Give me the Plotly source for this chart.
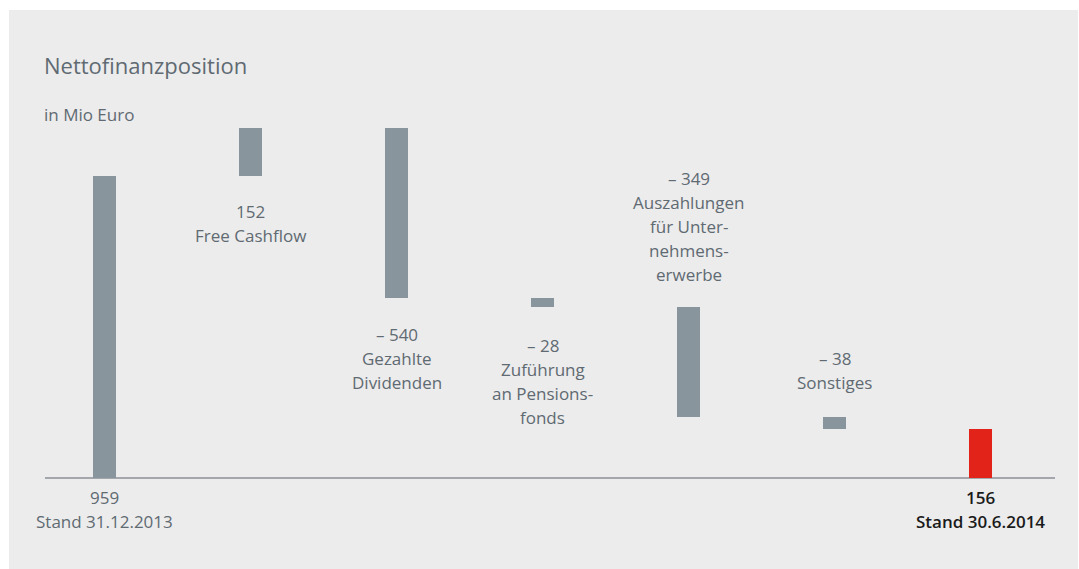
import plotly.graph_objects as go

# ---- data ----
categories = ["Stand 31.12.2013", "Free Cashflow", "Gezahlte Dividenden",
              "Zuführung an Pensionsfonds", "Auszahlungen für Unternehmenserwerbe",
              "Sonstiges", "Stand 30.6.2014"]
start_value = 959
deltas = [152, -540, -28, -349, -38]
end_value = 156
value_labels = ["959", "152", "– 540", "– 28", "– 349", "– 38", "156"]
label_lines = [
    ["Stand 31.12.2013"],
    ["Free Cashflow"],
    ["Gezahlte", "Dividenden"],
    ["Zuführung", "an Pensions-", "fonds"],
    ["Auszahlungen", "für Unter-", "nehmens-", "erwerbe"],
    ["Sonstiges"],
    ["Stand 30.6.2014"],
]

# ---- style ----
PANEL = "#ececec"
BAR = "#89959c"
RED = "#e2231a"
TXT = "#5f6a72"
FONT = "Open Sans"
FS = 17

# waterfall bases/heights
bases, heights = [0], [start_value]
running = start_value
for d in deltas:
    if d >= 0:
        bases.append(running); heights.append(d)
    else:
        bases.append(running + d); heights.append(-d)
    running += d
bases.append(0); heights.append(end_value)
colors = [BAR] * 6 + [RED]
xs = list(range(len(categories)))

fig = go.Figure(go.Bar(x=xs, y=heights, base=bases, marker_color=colors,
                       marker_line_width=0, width=0.158, hoverinfo="skip"))

px_per_unit = 302 / 959
annotations = []
LINE = 24

def add_lines(x, y, lines, first_shift, direction, color=TXT, weight=400):
    for i, t in enumerate(lines):
        annotations.append(dict(x=x, y=y, xref="x", yref="y", text=t, showarrow=False,
                                yshift=direction * (first_shift + i * LINE),
                                font=dict(family=FONT, size=FS, color=color, weight=weight),
                                xanchor="center", yanchor="middle"))

add_lines(0, 0, [value_labels[0]] + label_lines[0], 19, -1)
add_lines(6, 0, [value_labels[6]] + label_lines[6], 19, -1, color="#1a1a1a", weight=600)
add_lines(1, bases[1], [value_labels[1]] + label_lines[1], 35, -1)
add_lines(2, bases[2], [value_labels[2]] + label_lines[2], 36, -1)
add_lines(3, bases[3], [value_labels[3]] + label_lines[3], 38, -1)
lines4 = [value_labels[4]] + label_lines[4]
add_lines(4, bases[4] + heights[4], list(reversed(lines4)), 33, 1)
lines5 = [value_labels[5]] + label_lines[5]
add_lines(5, bases[5] + heights[5], list(reversed(lines5)), 34, 1)

annotations.append(dict(x=42, y=65, xref="paper", yref="paper", text="Nettofinanzposition",
                        showarrow=False, font=dict(family=FONT, size=22, color=TXT),
                        xanchor="left", yanchor="middle"))
annotations.append(dict(x=42, y=114, xref="paper", yref="paper", text="in Mio Euro",
                        showarrow=False, font=dict(family=FONT, size=17, color=TXT),
                        xanchor="left", yanchor="middle"))

W, H = 1079, 569
ml, mt, mr, mb = 9, 10, 1, 0
pw, ph = W - ml - mr, H - mt - mb
for a in annotations[-2:]:
    a["x"] = (a["x"] - ml) / pw
    a["y"] = 1 - (a["y"] - mt) / ph

X0, DX = 104.5, 146
x_left = (ml - X0) / DX
x_right = (W - mr - X0) / DX
y_top = (478 - mt) / px_per_unit
y_bot = -(H - mb - 478) / px_per_unit

fig.update_layout(
    width=W, height=H,
    margin=dict(l=ml, r=mr, t=mt, b=mb, pad=0),
    paper_bgcolor="white", plot_bgcolor=PANEL,
    showlegend=False,
    xaxis=dict(range=[x_left, x_right], visible=False, fixedrange=True),
    yaxis=dict(range=[y_bot, y_top], visible=False, fixedrange=True),
    annotations=annotations,
    shapes=[dict(type="line", xref="x", yref="y", x0=(45 - X0) / DX, x1=(1055 - X0) / DX,
                 y0=0, y1=0, line=dict(color="#a3a7ab", width=2), layer="below")],
    bargap=0,
)

fig.write_html("out.html", config={"displayModeBar": False})
